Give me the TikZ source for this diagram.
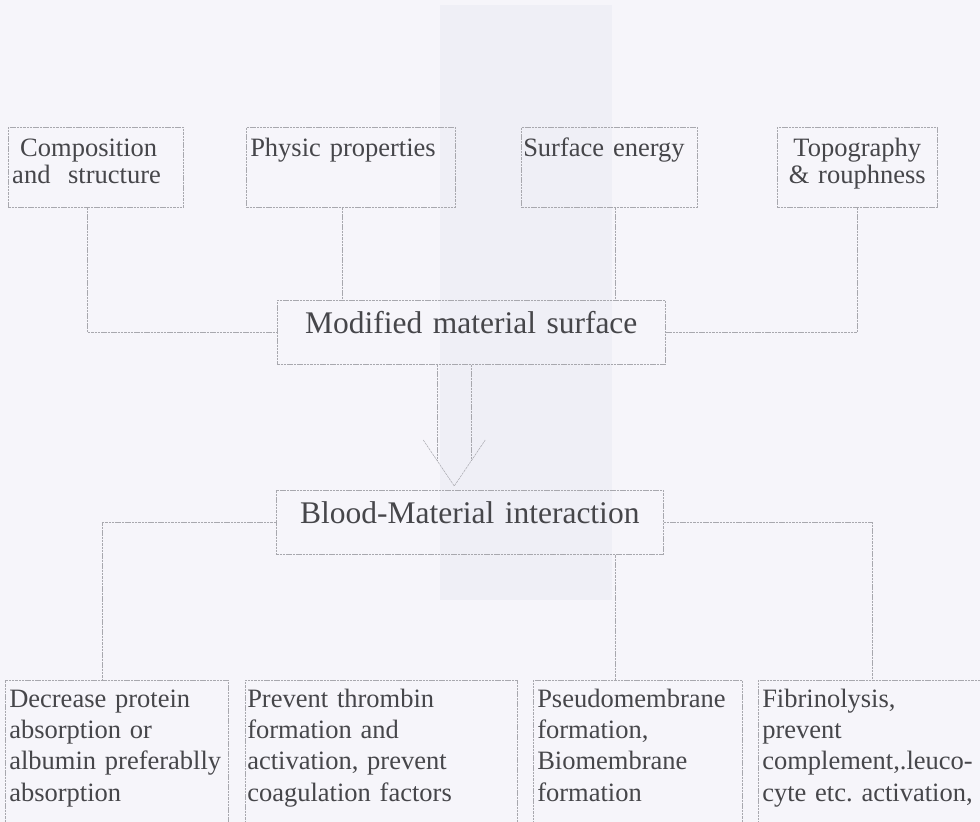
\documentclass[tikz,border=0pt]{standalone}
\usepackage{fontspec}
\setmainfont{Liberation Serif}
\usepackage{tikz}
\definecolor{paper}{RGB}{246,245,250}
\definecolor{band}{RGB}{239,239,246}
\definecolor{ink}{RGB}{70,70,74}
\definecolor{rule}{RGB}{168,168,174}
\frenchspacing

\begin{document}
\begin{tikzpicture}[x=1pt, y=-1pt,
    frame/.style={draw=rule, line width=0.5pt, dash pattern=on 2.5pt off 0.8pt,
      text=ink, inner xsep=4pt, inner ysep=0pt, anchor=north west},
    toprow/.style={frame, align=left, font=\fontsize{26.5}{27}\selectfont,
      text height=29pt, text depth=51pt},
    midrow/.style={frame, align=center, font=\fontsize{31.5}{36}\selectfont,
      text height=33pt, text depth=31pt},
    lowrow/.style={frame, align=left, font=\fontsize{26.5}{31.3}\selectfont,
      text height=27pt, text depth=150pt},
    link/.style={draw=rule, line width=0.5pt, dash pattern=on 2.5pt off 0.8pt}]
  % 背景
  \useasboundingbox (0,0) rectangle (980,822);
  \clip (0,0) rectangle (980,822);
  \fill[paper] (0,0) rectangle (980,822);
  \fill[band] (440,5) rectangle (612,600);
  % 上层方框
  \node[toprow, text width=167pt] (comp) at (8,127) {\hspace*{8pt}Composition\\and\ \ structure};
  \node[toprow, text width=201pt] (phys) at (246,127) {Physic properties};
  \node[toprow, inner xsep=2pt, text width=172pt] (energy) at (521,127) {Surface energy};
  \node[toprow, align=center, text width=152pt] (topo) at (777,127) {Topography\\\&~rouphness};
  % 中间方框
  \node[midrow, text width=380pt] (modsurf) at (277,300) {Modified material surface};
  \node[midrow, text width=379pt] (inter) at (276,490) {Blood-Material interaction};
  % 下层方框
  \node[lowrow, text width=215pt] (protein) at (5,680)
    {Decrease protein\\absorption or\\albumin preferablly\\absorption};
  \node[lowrow, inner xsep=2pt, text width=268pt] (thrombin) at (245,680)
    {Prevent thrombin\\formation and\\activation, prevent\\coagulation factors};
  \node[lowrow, text width=201pt] (membrane) at (533,680)
    {Pseudomembrane\\formation,\\Biomembrane\\formation};
  \node[lowrow, text width=234pt] (fibrin) at (758,680)
    {Fibrinolysis,\\prevent\\complement,.leuco-\\cyte etc. activation,};
  % 上层连线
  \draw[link] ([xshift=-8.5pt]comp.south) |- (modsurf.west);
  \draw[link] ([xshift=-8.5pt]phys.south) -- ([xshift=-8.5pt]phys.south |- modsurf.north);
  \draw[link] ([xshift=6pt]energy.south) -- ([xshift=6pt]energy.south |- modsurf.north);
  \draw[link] (topo.south) |- (modsurf.east);
  % 空心箭头
  \coordinate (tip) at ([xshift=-15.5pt,yshift=4pt]inter.north);
  \draw[link] ([xshift=-17pt]tip |- modsurf.south) -- ([shift={(-17pt,25pt)}]tip);
  \draw[link] ([xshift=17pt]tip |- modsurf.south) -- ([shift={(17pt,25pt)}]tip);
  \draw[link] ([shift={(-31pt,46pt)}]tip) -- (tip) -- ([shift={(31pt,46pt)}]tip);
  % 下层连线
  \draw[link] (inter.west) -| ([xshift=-14.5pt]protein.north);
  \draw[link] ([xshift=-22.5pt]membrane.north) -- ([xshift=-22.5pt]membrane.north |- inter.south);
  \draw[link] (inter.east) -| ([xshift=-7pt]fibrin.north);
\end{tikzpicture}
\end{document}
